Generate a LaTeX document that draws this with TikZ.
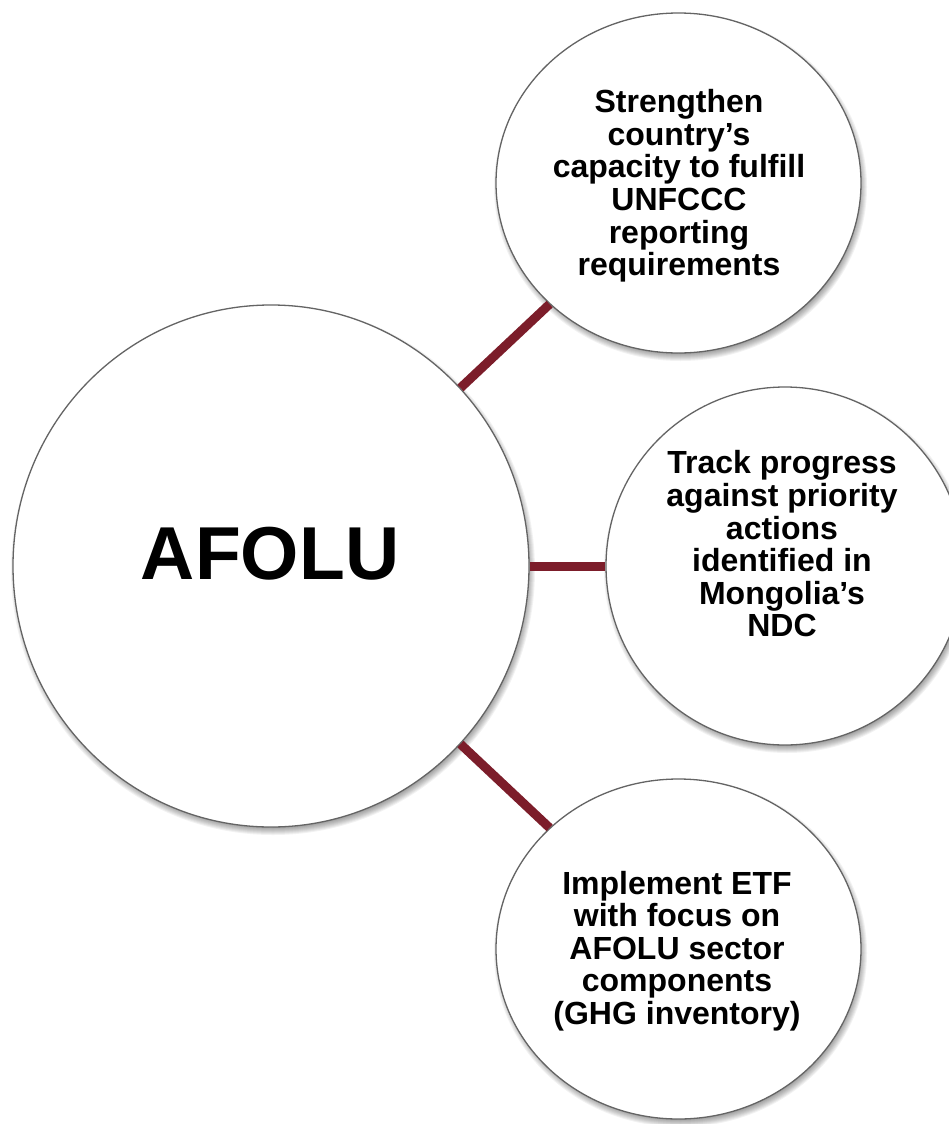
\documentclass[tikz,border=0pt]{standalone}
\usepackage{fontspec}
\setmainfont{Liberation Sans}
\usetikzlibrary{shapes.geometric}
\definecolor{linkred}{RGB}{124,29,42}
\definecolor{rimgray}{RGB}{100,100,100}
\tikzset{
  bubble/.style={ellipse, draw=rimgray, line width=1.3pt, fill=white, inner sep=0pt},
  link/.style={draw=linkred, line width=9pt},
  bubtext/.style={align=center, font=\bfseries\fontsize{32}{32.6}\selectfont, inner sep=0pt},
}
\newcommand{\softshadow}[4]{% cx cy a b
  \foreach \k in {0,...,7}{
    \fill[black, opacity=0.05] ({#1+2},{#2+4}) ellipse ({#3+4-\k} and {#4+4-\k});
  }
}
\begin{document}
\begin{tikzpicture}[x=1pt,y=-1pt]
\useasboundingbox (0,0) rectangle (949,1124);
\clip (0,0) rectangle (949,1124);
\fill[white] (0,0) rectangle (949,1124);
% shadows
\softshadow{271}{566}{258}{261}
\softshadow{678.5}{183}{182.5}{170}
\softshadow{785}{566}{179}{179}
\softshadow{678.5}{949}{182.5}{170}
% bubbles
\node[bubble, minimum width=516pt, minimum height=522pt] (hub) at (271,566) {};
\node[bubble, minimum width=365pt, minimum height=340pt] (top) at (678.5,183) {};
\node[bubble, minimum width=358pt, minimum height=358pt] (mid) at (785,566) {};
\node[bubble, minimum width=365pt, minimum height=340pt] (bot) at (678.5,949) {};
% connectors
\draw[link] (hub) -- (top);
\draw[link] (hub) -- (mid);
\draw[link] (hub) -- (bot);
% texts
\node[font=\bfseries\fontsize{75}{75}\selectfont, inner sep=0pt, anchor=base] (hubtext) at (270,579) {AFOLU};
\node[bubtext] (toptext) at (679,186) {Strengthen\\country’s\\capacity to fulfill\\UNFCCC\\reporting\\requirements};
\node[bubtext] (midtext) at (782,544) {Track progress\\against priority\\actions\\identified in\\Mongolia’s\\NDC};
\node[bubtext] (bottext) at (677,951) {Implement ETF\\with focus on\\AFOLU sector\\components\\(GHG inventory)};
\end{tikzpicture}
\end{document}
